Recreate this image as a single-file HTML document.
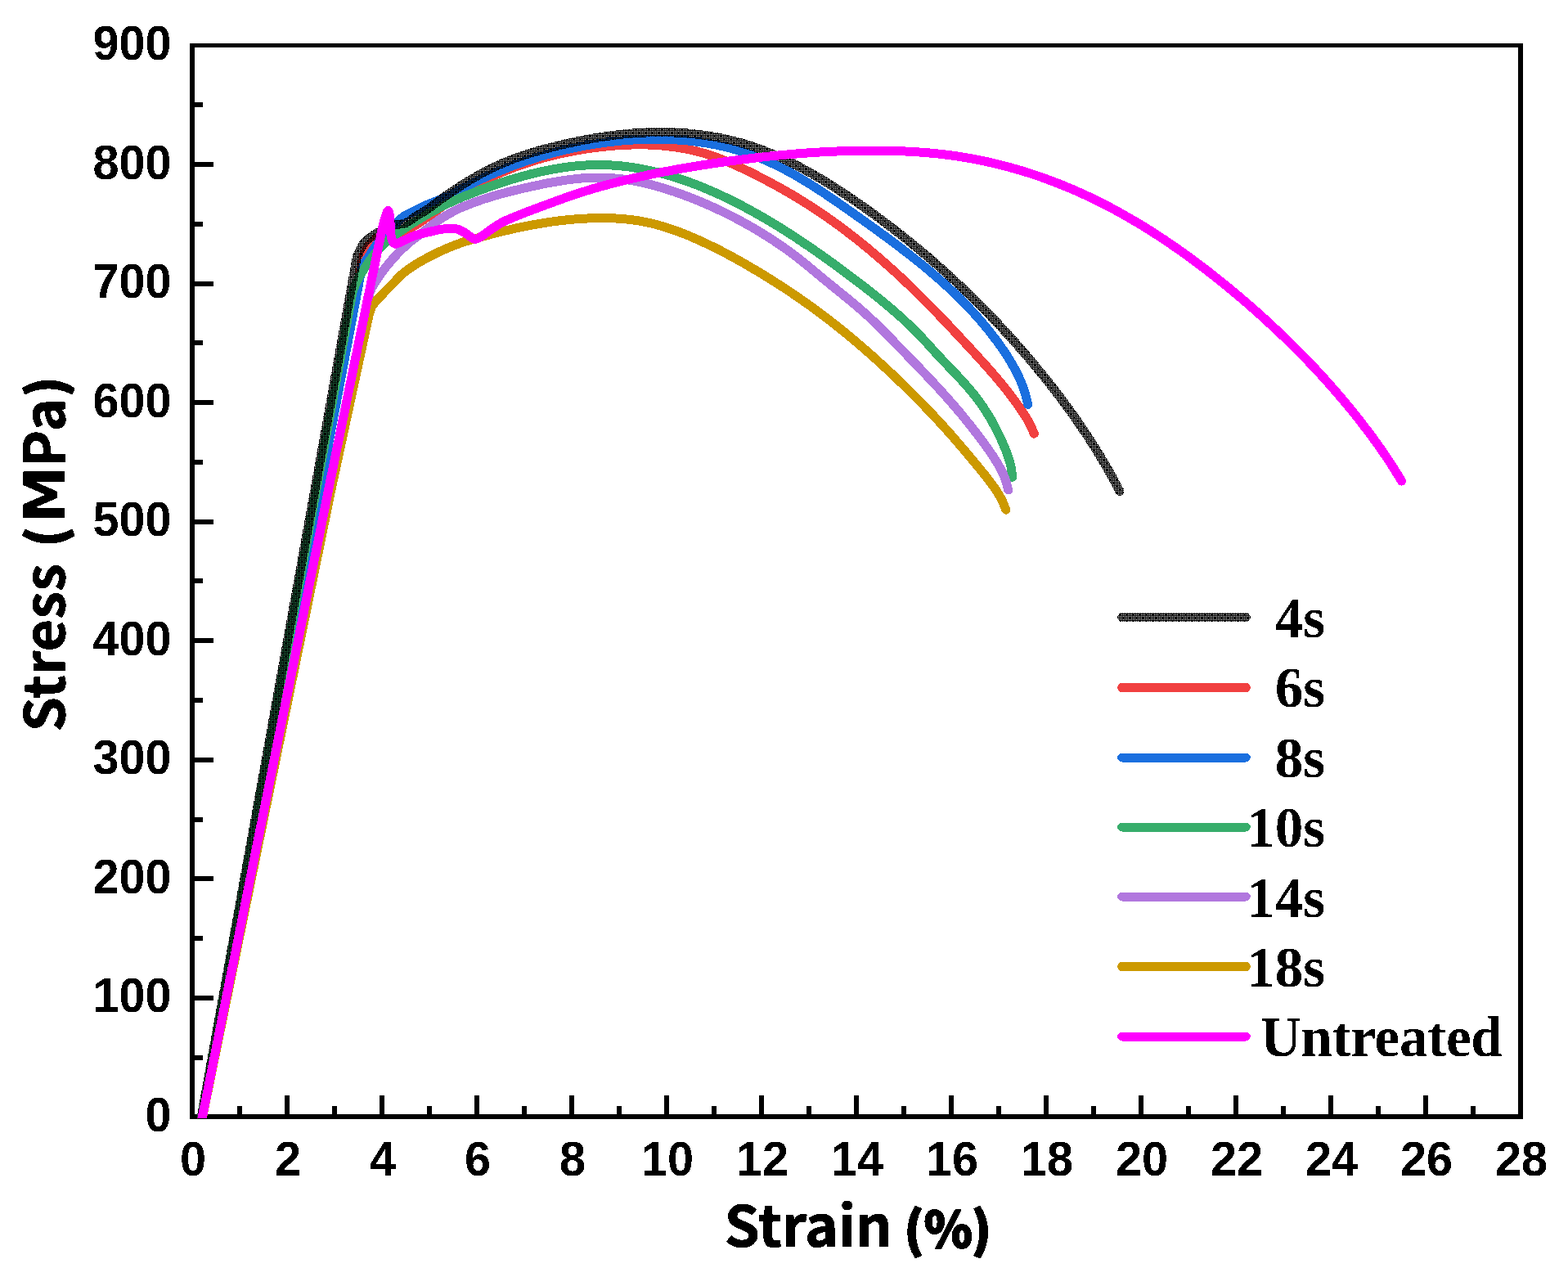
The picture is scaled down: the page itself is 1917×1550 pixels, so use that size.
<!DOCTYPE html>
<html lang="en"><head><meta charset="utf-8"><title>Stress-Strain curves</title>
<style>html,body{margin:0;padding:0;background:#fff}body{width:1917px;height:1550px;overflow:hidden}svg{display:block}.tk{font-family:"Liberation Sans",Arial,sans-serif;font-weight:bold;font-size:57.6px;fill:#000}.lg{font-family:"Liberation Serif","Times New Roman",serif;font-weight:bold;font-size:69px;fill:#000}.ax{font-family:"Noto Sans CJK SC","Liberation Sans",sans-serif;font-weight:bold;font-size:69.4px;fill:#000}.c{fill:none;stroke-width:11.0;stroke-linecap:round;stroke-linejoin:round}</style></head><body>
<svg width="1917" height="1550" viewBox="0 0 1917 1550" shape-rendering="crispEdges">
<defs>
<pattern id="dith" patternUnits="userSpaceOnUse" x="1" y="2" width="8" height="8">
<path id="dp" d="M0 0H8V8H0ZM0 0h1v1h-1ZM2 0h1v1h-1ZM6 0h1v1h-1ZM0 2h1v1h-1ZM2 2h1v1h-1ZM4 2h1v1h-1ZM6 2h1v1h-1ZM2 4h1v1h-1ZM4 4h1v1h-1ZM6 4h1v1h-1ZM0 6h1v1h-1ZM2 6h1v1h-1ZM4 6h1v1h-1ZM6 6h1v1h-1Z" fill="#000" fill-rule="evenodd"/>
</pattern>
<pattern id="dithL" patternUnits="userSpaceOnUse" x="1" y="3" width="8" height="8">
<path d="M0 0H8V8H0ZM0 0h1v1h-1ZM2 0h1v1h-1ZM6 0h1v1h-1ZM0 2h1v1h-1ZM2 2h1v1h-1ZM4 2h1v1h-1ZM6 2h1v1h-1ZM2 4h1v1h-1ZM4 4h1v1h-1ZM6 4h1v1h-1ZM0 6h1v1h-1ZM2 6h1v1h-1ZM4 6h1v1h-1ZM6 6h1v1h-1Z" fill="#000" fill-rule="evenodd"/>
</pattern>
<clipPath id="clip"><rect x="232" y="53" width="1630" height="1314"/></clipPath>
<filter id="bw" x="-5%" y="-5%" width="110%" height="110%" color-interpolation-filters="sRGB"><feComponentTransfer><feFuncA type="discrete" tableValues="0 1"/></feComponentTransfer></filter>
</defs>
<rect width="1917" height="1550" fill="#fff"/>
<g fill="#000"><rect x="232" y="53" width="1630" height="5"/><rect x="232" y="1362" width="1630" height="6"/><rect x="232" y="53" width="6" height="1315"/><rect x="1856" y="53" width="6" height="1315"/><rect x="290" y="1352" width="6" height="10"/><rect x="348" y="1339" width="6" height="23"/><rect x="406" y="1352" width="6" height="10"/><rect x="464" y="1339" width="6" height="23"/><rect x="522" y="1352" width="6" height="10"/><rect x="580" y="1339" width="6" height="23"/><rect x="638" y="1352" width="6" height="10"/><rect x="696" y="1339" width="6" height="23"/><rect x="754" y="1352" width="6" height="10"/><rect x="812" y="1339" width="6" height="23"/><rect x="870" y="1352" width="6" height="10"/><rect x="928" y="1339" width="6" height="23"/><rect x="986" y="1352" width="6" height="10"/><rect x="1044" y="1339" width="6" height="23"/><rect x="1102" y="1352" width="6" height="10"/><rect x="1160" y="1339" width="6" height="23"/><rect x="1218" y="1352" width="6" height="10"/><rect x="1276" y="1339" width="6" height="23"/><rect x="1334" y="1352" width="6" height="10"/><rect x="1392" y="1339" width="6" height="23"/><rect x="1450" y="1352" width="6" height="10"/><rect x="1508" y="1339" width="6" height="23"/><rect x="1566" y="1352" width="6" height="10"/><rect x="1624" y="1339" width="6" height="23"/><rect x="1682" y="1352" width="6" height="10"/><rect x="1740" y="1339" width="6" height="23"/><rect x="1798" y="1352" width="6" height="10"/><rect x="238" y="1290" width="10" height="6"/><rect x="238" y="1217" width="23" height="6"/><rect x="238" y="1144" width="10" height="6"/><rect x="238" y="1071" width="23" height="6"/><rect x="238" y="999" width="10" height="6"/><rect x="238" y="926" width="23" height="6"/><rect x="238" y="853" width="10" height="6"/><rect x="238" y="780" width="23" height="6"/><rect x="238" y="707" width="10" height="6"/><rect x="238" y="635" width="23" height="6"/><rect x="238" y="562" width="10" height="6"/><rect x="238" y="489" width="23" height="6"/><rect x="238" y="416" width="10" height="6"/><rect x="238" y="344" width="23" height="6"/><rect x="238" y="271" width="10" height="6"/><rect x="238" y="198" width="23" height="6"/><rect x="238" y="125" width="10" height="6"/></g>
<g clip-path="url(#clip)">
<path class="c" stroke="#F14040" d="M245.0 1373.0 L441.3 326.0C443.5 314.8 443.5 315.2 445.0 311.0C446.5 306.8 448.3 303.6 450.5 300.5C452.7 297.4 454.8 294.5 458.0 292.5C461.2 290.5 466.3 289.4 470.0 288.3C473.7 287.2 476.7 286.8 480.0 286.0C483.3 285.2 485.4 285.3 490.0 283.6C494.6 281.9 502.3 278.6 507.7 275.6C513.1 272.6 517.4 269.0 522.3 265.6C527.2 262.2 532.6 258.4 536.9 255.3C541.2 252.2 544.4 249.5 548.3 246.8C552.2 244.0 556.2 241.3 560.2 238.7C564.2 236.1 568.3 233.6 572.4 231.2C576.5 228.8 580.7 226.5 585.0 224.2C589.2 222.0 593.5 219.8 597.9 217.7C602.2 215.6 606.7 213.6 611.1 211.7C615.5 209.8 620.0 208.0 624.6 206.2C629.1 204.5 633.6 202.8 638.2 201.2C642.8 199.6 647.5 198.1 652.1 196.7C656.8 195.2 661.5 193.9 666.2 192.6C670.9 191.3 675.6 190.1 680.3 189.0C685.1 187.9 689.8 186.9 694.6 185.9C699.4 184.9 704.2 184.0 709.0 183.2C713.7 182.4 718.5 181.7 723.3 181.0C728.1 180.4 732.9 179.8 737.7 179.3C742.5 178.8 747.3 178.4 752.1 178.0C756.8 177.6 761.6 177.4 766.4 177.2C771.1 177.0 775.9 176.9 780.6 176.9C785.4 176.8 790.1 176.9 794.8 177.1C799.5 177.3 804.2 177.6 808.9 178.0C813.6 178.4 818.3 178.9 822.9 179.5C827.6 180.1 832.2 180.9 836.9 181.7C841.5 182.6 846.1 183.6 850.7 184.7C855.3 185.9 859.9 187.1 864.4 188.5C869.0 189.9 873.5 191.5 878.1 193.2C882.6 194.8 887.1 196.7 891.6 198.6C896.0 200.5 900.5 202.5 904.9 204.6C909.3 206.6 913.8 208.8 918.1 210.9C922.5 213.1 926.9 215.3 931.2 217.6C935.6 219.8 939.9 222.1 944.1 224.4C948.4 226.7 952.7 229.0 956.9 231.4C961.1 233.8 965.3 236.2 969.5 238.7C973.7 241.2 977.8 243.7 981.9 246.3C986.0 248.8 990.1 251.4 994.1 254.1C998.2 256.7 1002.2 259.4 1006.2 262.1C1010.2 264.8 1014.1 267.6 1018.0 270.4C1022.0 273.2 1025.8 276.1 1029.7 279.0C1033.6 281.8 1037.4 284.8 1041.2 287.7C1045.0 290.7 1048.8 293.6 1052.6 296.7C1056.3 299.7 1060.0 302.7 1063.7 305.8C1067.4 308.9 1071.1 312.0 1074.7 315.2C1078.4 318.3 1082.0 321.5 1085.6 324.7C1089.2 327.9 1092.7 331.1 1096.3 334.3C1099.8 337.6 1103.3 340.9 1106.8 344.2C1110.3 347.5 1113.8 350.8 1117.2 354.1C1120.6 357.5 1124.0 360.8 1127.4 364.2C1130.8 367.6 1134.2 371.0 1137.5 374.4C1140.9 377.8 1144.2 381.2 1147.5 384.7C1150.8 388.1 1154.1 391.6 1157.4 395.0C1160.7 398.5 1163.9 402.0 1167.2 405.5C1170.5 409.0 1173.7 412.5 1177.0 416.0C1180.2 419.5 1183.5 423.0 1186.8 426.5C1190.0 430.1 1193.3 433.6 1196.5 437.2C1199.8 440.7 1203.0 444.3 1206.2 447.9C1209.4 451.5 1212.6 455.1 1215.8 458.8C1218.9 462.5 1222.0 466.2 1225.1 469.9C1228.1 473.6 1231.1 477.4 1234.1 481.2C1237.0 485.1 1239.9 488.9 1242.7 492.9C1245.5 496.8 1248.3 500.8 1250.9 504.8C1253.5 508.9 1256.3 513.0 1258.5 517.2C1260.7 521.4 1263.3 527.9 1264.3 530.1"/>
<path class="c" stroke="#1A6FDF" d="M245.0 1373.0 L441.8 330.0C444.9 318.7 448.2 318.5 450.8 314.0C453.4 309.5 455.0 306.7 457.5 303.0C460.0 299.3 463.1 295.4 466.0 292.0C468.9 288.6 472.0 285.7 475.0 282.6C478.0 279.5 481.0 276.5 484.0 273.6C487.0 270.7 489.1 267.7 493.0 265.0C496.9 262.3 502.8 259.9 507.7 257.4C512.6 254.9 517.2 252.4 522.3 250.2C527.3 248.0 532.4 246.4 538.0 244.0C543.6 241.6 550.9 238.1 556.0 235.5C561.1 233.0 564.3 230.9 568.5 228.7C572.7 226.5 577.0 224.4 581.2 222.3C585.5 220.2 589.8 218.2 594.1 216.2C598.4 214.2 602.8 212.3 607.2 210.5C611.5 208.6 615.9 206.8 620.3 205.1C624.8 203.4 629.2 201.7 633.7 200.1C638.2 198.5 642.7 196.9 647.2 195.5C651.7 194.0 656.2 192.6 660.8 191.2C665.4 189.8 669.9 188.5 674.5 187.3C679.1 186.1 683.8 184.9 688.4 183.8C693.0 182.7 697.7 181.6 702.4 180.7C707.1 179.7 711.7 178.8 716.5 177.9C721.2 177.1 725.9 176.3 730.6 175.6C735.4 174.9 740.1 174.2 744.9 173.6C749.7 173.1 754.5 172.5 759.2 172.1C764.0 171.6 768.8 171.3 773.6 171.0C778.4 170.7 783.3 170.4 788.1 170.3C792.9 170.2 797.7 170.1 802.5 170.1C807.3 170.1 812.1 170.2 816.9 170.4C821.7 170.5 826.5 170.8 831.2 171.2C836.0 171.5 840.8 171.9 845.5 172.5C850.2 173.0 855.0 173.6 859.7 174.3C864.3 175.0 869.0 175.8 873.7 176.7C878.3 177.7 882.9 178.7 887.5 179.8C892.1 180.9 896.6 182.1 901.2 183.4C905.7 184.7 910.1 186.1 914.6 187.6C919.0 189.2 923.4 190.8 927.8 192.6C932.1 194.3 936.4 196.1 940.7 198.1C945.0 200.0 949.2 202.1 953.4 204.2C957.6 206.3 961.8 208.5 965.9 210.8C970.1 213.0 974.2 215.4 978.3 217.8C982.3 220.2 986.4 222.7 990.4 225.2C994.5 227.7 998.5 230.3 1002.5 232.9C1006.5 235.5 1010.5 238.2 1014.4 240.9C1018.4 243.6 1022.4 246.3 1026.3 249.0C1030.3 251.8 1034.2 254.5 1038.1 257.3C1042.1 260.1 1046.0 262.8 1049.9 265.6C1053.9 268.4 1057.8 271.2 1061.7 274.0C1065.6 276.8 1069.5 279.6 1073.4 282.4C1077.3 285.3 1081.2 288.1 1085.0 291.0C1088.9 293.8 1092.8 296.7 1096.6 299.6C1100.4 302.5 1104.2 305.4 1108.0 308.3C1111.8 311.2 1115.6 314.2 1119.3 317.2C1123.0 320.1 1126.7 323.2 1130.4 326.2C1134.1 329.2 1137.7 332.3 1141.3 335.4C1145.0 338.5 1148.5 341.6 1152.1 344.8C1155.6 348.0 1159.1 351.2 1162.6 354.4C1166.0 357.7 1169.4 361.0 1172.8 364.3C1176.2 367.6 1179.5 371.0 1182.8 374.4C1186.1 377.8 1189.3 381.3 1192.4 384.8C1195.6 388.3 1198.7 391.9 1201.8 395.5C1204.9 399.1 1207.9 402.8 1210.8 406.6C1213.7 410.3 1216.6 414.1 1219.5 417.9C1222.3 421.8 1225.0 425.7 1227.7 429.6C1230.4 433.6 1233.0 437.6 1235.4 441.8C1237.8 445.9 1240.2 450.0 1242.4 454.3C1244.5 458.5 1246.6 462.8 1248.4 467.2C1250.2 471.6 1251.8 476.0 1253.2 480.6C1254.6 485.1 1256.1 492.1 1256.7 494.4"/>
<path class="c" stroke="#37AD6B" d="M245.0 1373.0 L430.5 360.0C432.5 350.1 432.1 353.9 433.2 351.0C434.3 348.1 435.4 345.7 437.0 342.5C438.6 339.3 440.9 335.4 443.0 332.0C445.1 328.6 446.7 326.0 449.5 322.0C452.3 318.0 456.4 312.2 460.0 308.0C463.6 303.8 467.4 300.3 471.1 297.0C474.8 293.7 478.4 290.8 482.0 288.0C485.6 285.2 487.5 283.9 493.0 280.3C498.5 276.7 507.5 270.9 515.0 266.4C522.5 261.9 530.5 257.4 538.0 253.5C545.5 249.6 554.2 245.7 560.0 243.1C565.8 240.5 568.5 239.6 572.9 237.9C577.2 236.2 581.6 234.5 586.0 232.8C590.5 231.2 594.9 229.5 599.4 227.9C603.9 226.3 608.5 224.8 613.0 223.3C617.6 221.8 622.2 220.3 626.8 218.9C631.4 217.6 636.1 216.2 640.8 214.9C645.4 213.7 650.1 212.5 654.8 211.4C659.5 210.2 664.2 209.2 669.0 208.3C673.7 207.3 678.4 206.4 683.2 205.7C687.9 204.9 692.7 204.2 697.4 203.6C702.2 203.1 706.9 202.6 711.7 202.3C716.4 201.9 721.2 201.7 725.9 201.6C730.6 201.5 735.4 201.5 740.1 201.6C744.8 201.8 749.5 202.1 754.2 202.4C758.9 202.8 763.6 203.3 768.2 203.9C772.9 204.5 777.5 205.3 782.2 206.1C786.8 206.9 791.4 207.9 796.0 208.9C800.6 209.9 805.2 211.0 809.8 212.3C814.4 213.5 818.9 214.8 823.4 216.2C828.0 217.6 832.5 219.1 837.0 220.6C841.5 222.2 846.0 223.8 850.4 225.5C854.9 227.3 859.3 229.0 863.7 230.9C868.1 232.8 872.5 234.7 876.9 236.7C881.3 238.6 885.6 240.7 889.9 242.8C894.2 244.9 898.5 247.0 902.8 249.2C907.1 251.4 911.3 253.7 915.5 256.0C919.7 258.3 923.9 260.6 928.1 263.0C932.2 265.3 936.4 267.7 940.5 270.2C944.6 272.6 948.7 275.1 952.7 277.6C956.8 280.1 960.8 282.7 964.8 285.3C968.9 287.8 972.9 290.4 976.8 293.1C980.8 295.7 984.7 298.4 988.7 301.0C992.6 303.7 996.5 306.4 1000.4 309.2C1004.3 311.9 1008.2 314.7 1012.0 317.4C1015.9 320.2 1019.7 323.0 1023.6 325.8C1027.4 328.6 1031.2 331.4 1035.0 334.3C1038.8 337.1 1042.6 340.0 1046.4 342.8C1050.2 345.7 1053.9 348.6 1057.7 351.5C1061.4 354.4 1065.1 357.3 1068.8 360.2C1072.5 363.2 1076.2 366.2 1079.9 369.2C1083.5 372.2 1087.1 375.2 1090.7 378.3C1094.3 381.4 1097.9 384.5 1101.4 387.7C1104.9 390.9 1108.4 394.1 1111.8 397.4C1115.2 400.7 1118.6 404.0 1121.9 407.4C1125.3 410.8 1128.5 414.3 1131.8 417.8C1135.0 421.3 1138.2 424.9 1141.4 428.4C1144.6 432.0 1147.9 435.5 1151.2 439.0C1154.5 442.5 1157.8 445.9 1161.1 449.4C1164.4 452.8 1167.7 456.3 1171.0 459.8C1174.2 463.2 1177.5 466.7 1180.6 470.3C1183.8 473.9 1186.9 477.4 1189.8 481.1C1192.8 484.8 1195.7 488.6 1198.4 492.4C1201.2 496.3 1203.8 500.2 1206.3 504.2C1208.9 508.2 1211.3 512.3 1213.6 516.5C1215.9 520.6 1218.1 524.9 1220.2 529.2C1222.3 533.5 1224.3 537.8 1226.2 542.2C1228.1 546.6 1230.0 551.1 1231.6 555.6C1233.1 560.1 1234.7 564.7 1235.7 569.3C1236.7 573.9 1237.4 581.0 1237.7 583.3"/>
<path class="c" stroke="#B177DE" d="M245.9 1373.0 L402.0 600.0 L452.0 358.0C453.4 354.0 454.8 351.1 458.0 346.0C461.2 340.9 466.5 333.2 471.1 327.3C475.7 321.4 480.8 315.6 485.7 310.5C490.6 305.4 495.4 300.8 500.3 296.6C505.2 292.4 508.7 290.1 515.0 285.3C521.3 280.5 530.5 273.0 538.0 268.0C545.5 263.0 554.1 258.5 560.0 255.5C565.9 252.5 568.8 251.7 573.2 250.0C577.6 248.2 582.1 246.6 586.6 245.0C591.1 243.5 595.6 242.0 600.1 240.6C604.7 239.2 609.3 237.9 613.9 236.7C618.5 235.4 623.1 234.2 627.8 233.1C632.4 231.9 637.1 230.9 641.8 229.8C646.4 228.7 651.2 227.7 655.9 226.7C660.6 225.7 665.3 224.7 670.0 223.8C674.8 222.9 679.5 222.1 684.3 221.3C689.0 220.6 693.8 219.8 698.5 219.3C703.3 218.7 708.0 218.2 712.8 217.8C717.5 217.5 722.3 217.2 727.0 217.1C731.8 217.0 736.5 217.0 741.2 217.2C746.0 217.4 750.7 217.8 755.4 218.3C760.1 218.8 764.8 219.4 769.5 220.2C774.2 220.9 778.9 221.8 783.5 222.8C788.2 223.8 792.8 224.9 797.4 226.1C802.0 227.4 806.6 228.7 811.2 230.1C815.8 231.5 820.4 233.0 824.9 234.5C829.5 236.1 834.0 237.8 838.5 239.4C843.0 241.1 847.5 242.9 851.9 244.7C856.4 246.5 860.8 248.4 865.2 250.3C869.6 252.3 873.9 254.2 878.3 256.3C882.6 258.3 886.9 260.4 891.2 262.6C895.5 264.7 899.7 266.9 903.9 269.2C908.1 271.4 912.3 273.7 916.4 276.1C920.6 278.4 924.7 280.8 928.7 283.3C932.8 285.8 936.8 288.3 940.8 290.8C944.8 293.4 948.7 296.0 952.7 298.7C956.6 301.4 960.5 304.1 964.3 306.9C968.1 309.7 971.9 312.6 975.7 315.5C979.5 318.4 983.2 321.4 986.9 324.4C990.6 327.5 994.3 330.6 998.0 333.6C1001.6 336.7 1005.3 339.8 1009.0 342.8C1012.7 345.8 1016.4 348.8 1020.1 351.8C1023.8 354.8 1027.5 357.8 1031.2 360.8C1034.9 363.8 1038.5 366.8 1042.2 369.8C1045.8 372.9 1049.4 375.9 1053.0 379.0C1056.6 382.2 1060.1 385.3 1063.6 388.6C1067.1 391.8 1070.5 395.1 1073.9 398.5C1077.4 401.8 1080.7 405.2 1084.1 408.6C1087.5 412.0 1090.8 415.4 1094.1 418.9C1097.5 422.3 1100.8 425.8 1104.1 429.2C1107.5 432.6 1110.8 436.1 1114.1 439.5C1117.4 442.9 1120.8 446.4 1124.1 449.8C1127.4 453.3 1130.7 456.7 1133.9 460.2C1137.2 463.6 1140.5 467.1 1143.7 470.6C1147.0 474.1 1150.2 477.6 1153.4 481.2C1156.6 484.7 1159.7 488.3 1162.9 491.9C1166.0 495.5 1169.1 499.1 1172.2 502.7C1175.3 506.4 1178.3 510.1 1181.3 513.8C1184.3 517.5 1187.3 521.2 1190.2 525.0C1193.2 528.8 1196.1 532.6 1198.9 536.4C1201.8 540.2 1204.6 544.1 1207.4 548.0C1210.1 551.9 1212.9 555.9 1215.5 559.9C1218.0 563.9 1220.6 568.0 1222.8 572.2C1225.0 576.4 1227.1 580.6 1228.7 585.1C1230.4 589.6 1232.0 596.6 1232.7 598.9"/>
<path class="c" stroke="#CC9900" d="M246.0 1373.0 L404.6 600.0 L451.3 384.0C452.2 380.7 453.1 377.8 454.6 375.0C456.1 372.2 458.2 369.9 460.4 367.3C462.6 364.7 464.0 363.4 467.7 359.6C471.4 355.8 478.1 348.9 482.3 344.6C486.5 340.3 488.8 337.4 493.0 333.9C497.2 330.4 502.8 326.7 507.7 323.6C512.6 320.5 517.2 317.9 522.3 315.2C527.3 312.5 531.4 310.2 538.0 307.3C544.6 304.4 555.7 299.8 561.9 297.5C568.1 295.2 570.8 294.7 575.3 293.4C579.9 292.1 584.4 290.7 589.0 289.5C593.6 288.2 598.3 286.9 602.9 285.7C607.6 284.5 612.3 283.3 617.0 282.2C621.7 281.1 626.5 280.0 631.2 278.9C636.0 277.9 640.8 276.9 645.6 276.0C650.4 275.1 655.2 274.2 660.0 273.4C664.8 272.6 669.6 271.8 674.5 271.1C679.3 270.4 684.1 269.8 689.0 269.3C693.8 268.7 698.6 268.3 703.4 267.9C708.3 267.5 713.1 267.2 717.9 267.0C722.7 266.8 727.5 266.6 732.2 266.6C737.0 266.5 741.7 266.6 746.5 266.7C751.2 266.9 755.9 267.1 760.6 267.5C765.3 267.9 769.9 268.4 774.6 269.0C779.2 269.7 783.9 270.4 788.5 271.3C793.1 272.2 797.7 273.3 802.2 274.5C806.8 275.7 811.4 277.1 815.9 278.5C820.4 280.0 824.9 281.6 829.4 283.2C833.9 284.9 838.3 286.7 842.8 288.5C847.2 290.4 851.6 292.3 856.0 294.3C860.4 296.3 864.8 298.4 869.2 300.5C873.5 302.6 877.9 304.8 882.2 307.0C886.5 309.2 890.8 311.5 895.0 313.8C899.3 316.2 903.5 318.5 907.8 320.9C912.0 323.3 916.2 325.7 920.3 328.2C924.5 330.6 928.7 333.1 932.8 335.6C936.9 338.2 941.0 340.7 945.1 343.3C949.2 345.9 953.2 348.5 957.3 351.1C961.3 353.7 965.3 356.4 969.3 359.1C973.3 361.8 977.2 364.5 981.1 367.3C985.1 370.0 989.0 372.8 992.9 375.6C996.8 378.4 1000.6 381.3 1004.4 384.2C1008.3 387.0 1012.1 390.0 1015.9 392.9C1019.7 395.8 1023.4 398.8 1027.2 401.8C1030.9 404.8 1034.6 407.8 1038.3 410.9C1042.0 414.0 1045.7 417.1 1049.3 420.2C1052.9 423.3 1056.6 426.4 1060.2 429.6C1063.8 432.7 1067.4 435.9 1070.9 439.1C1074.5 442.4 1078.0 445.6 1081.6 448.9C1085.1 452.1 1088.6 455.4 1092.1 458.7C1095.6 462.0 1099.0 465.4 1102.5 468.7C1105.9 472.1 1109.4 475.4 1112.8 478.8C1116.2 482.2 1119.6 485.6 1123.0 489.0C1126.4 492.5 1129.8 495.9 1133.1 499.4C1136.4 502.9 1139.7 506.3 1143.0 509.8C1146.3 513.3 1149.6 516.9 1152.8 520.4C1156.0 523.9 1159.2 527.5 1162.3 531.0C1165.5 534.6 1168.6 538.2 1171.6 541.8C1174.7 545.4 1177.8 549.0 1180.8 552.6C1183.9 556.3 1187.0 559.9 1190.0 563.6C1193.1 567.3 1196.3 571.0 1199.3 574.8C1202.4 578.6 1205.5 582.4 1208.4 586.2C1211.3 590.0 1214.2 593.9 1216.9 597.9C1219.5 601.8 1222.0 605.8 1224.2 610.0C1226.4 614.2 1228.9 621.0 1229.9 623.2"/>
<path class="c" stroke="url(#dith)" stroke-width="10.6" d="M244.8 1373.0 L435.6 318.5C437.5 308.5 436.9 313.5 437.8 311.0C438.7 308.5 439.8 306.2 441.2 303.6C442.6 301.0 444.2 297.8 446.3 295.5C448.4 293.2 451.3 291.4 453.6 289.7C455.9 288.0 457.1 287.2 460.2 285.3C463.3 283.4 468.2 280.3 472.0 278.5C475.8 276.7 479.3 275.3 482.8 274.5C486.3 273.7 490.1 274.4 493.0 273.7C495.9 273.0 497.9 271.8 500.3 270.3C502.8 268.8 504.0 267.2 507.7 264.8C511.4 262.4 517.2 259.5 522.3 256.1C527.3 252.7 533.5 247.8 538.0 244.5C542.5 241.2 545.6 239.0 549.6 236.3C553.5 233.6 557.4 231.0 561.4 228.4C565.4 225.8 569.5 223.3 573.6 220.8C577.7 218.4 581.8 216.0 586.0 213.6C590.2 211.3 594.5 209.1 598.7 207.0C603.0 204.8 607.3 202.8 611.7 200.8C616.0 198.9 620.4 197.1 624.9 195.3C629.3 193.6 633.7 192.0 638.2 190.5C642.7 188.9 647.2 187.5 651.8 186.2C656.3 184.8 660.9 183.5 665.5 182.3C670.0 181.1 674.7 179.9 679.3 178.8C683.9 177.7 688.6 176.6 693.2 175.5C697.9 174.5 702.6 173.5 707.3 172.5C712.0 171.5 716.7 170.6 721.4 169.8C726.1 168.9 730.9 168.1 735.6 167.4C740.4 166.7 745.1 166.0 749.8 165.4C754.6 164.8 759.3 164.2 764.1 163.8C768.8 163.3 773.6 162.9 778.3 162.6C783.1 162.3 787.8 162.1 792.6 161.9C797.3 161.7 802.1 161.7 806.8 161.7C811.5 161.7 816.3 161.7 821.0 161.9C825.7 162.0 830.4 162.3 835.1 162.6C839.8 162.9 844.5 163.4 849.2 163.9C853.8 164.4 858.5 165.0 863.1 165.6C867.8 166.3 872.4 167.1 877.0 168.0C881.6 168.8 886.2 169.8 890.8 170.9C895.3 171.9 899.9 173.1 904.4 174.3C908.9 175.6 913.4 176.9 917.9 178.4C922.4 179.9 926.8 181.4 931.3 183.1C935.7 184.7 940.1 186.5 944.5 188.3C948.8 190.2 953.2 192.1 957.5 194.1C961.8 196.1 966.1 198.2 970.4 200.4C974.7 202.5 978.9 204.8 983.1 207.1C987.4 209.3 991.6 211.7 995.7 214.1C999.9 216.5 1004.1 219.0 1008.2 221.5C1012.3 224.0 1016.4 226.6 1020.5 229.2C1024.6 231.8 1028.6 234.5 1032.6 237.1C1036.7 239.8 1040.7 242.5 1044.7 245.3C1048.6 248.0 1052.6 250.7 1056.5 253.5C1060.5 256.3 1064.4 259.1 1068.3 261.9C1072.2 264.8 1076.0 267.6 1079.9 270.5C1083.7 273.3 1087.5 276.2 1091.3 279.2C1095.1 282.1 1098.9 285.0 1102.6 288.0C1106.4 290.9 1110.1 293.9 1113.8 296.9C1117.5 299.9 1121.2 303.0 1124.9 306.0C1128.5 309.1 1132.1 312.1 1135.8 315.2C1139.4 318.3 1143.0 321.4 1146.5 324.6C1150.1 327.7 1153.6 330.9 1157.2 334.1C1160.7 337.2 1164.2 340.4 1167.6 343.7C1171.1 346.9 1174.6 350.1 1178.0 353.4C1181.4 356.7 1184.8 360.0 1188.2 363.3C1191.6 366.6 1195.0 369.9 1198.3 373.3C1201.7 376.7 1205.0 380.0 1208.3 383.4C1211.6 386.8 1214.9 390.3 1218.1 393.7C1221.4 397.1 1224.6 400.6 1227.8 404.1C1231.0 407.6 1234.2 411.1 1237.4 414.6C1240.5 418.1 1243.7 421.7 1246.8 425.3C1249.9 428.8 1253.0 432.4 1256.1 436.0C1259.2 439.6 1262.2 443.3 1265.3 446.9C1268.3 450.6 1271.3 454.3 1274.3 457.9C1277.3 461.6 1280.3 465.4 1283.2 469.1C1286.2 472.8 1289.1 476.6 1292.0 480.4C1294.9 484.1 1297.7 487.9 1300.6 491.8C1303.4 495.6 1306.2 499.4 1309.0 503.3C1311.8 507.2 1314.5 511.0 1317.3 515.0C1320.0 518.9 1322.7 522.8 1325.3 526.8C1328.0 530.7 1330.6 534.7 1333.2 538.7C1335.7 542.7 1338.3 546.7 1340.8 550.8C1343.3 554.8 1345.8 558.9 1348.2 563.0C1350.6 567.1 1353.0 571.2 1355.4 575.3C1357.7 579.5 1360.0 583.7 1362.3 587.8C1364.5 592.0 1367.8 598.4 1368.9 600.5"/>
<path class="c" stroke="#FF00FF" d="M245.8 1373.0 L401.3 600.0 L467.1 280.0C468.1 275.7 468.8 273.0 469.6 270.0C470.5 267.0 471.4 264.1 472.2 262.0C473.0 259.9 473.7 257.5 474.4 257.5C475.1 257.5 475.8 259.6 476.2 262.0C476.6 264.4 476.8 268.2 477.0 272.0C477.2 275.8 477.2 281.3 477.6 285.0C478.0 288.7 478.6 291.8 479.6 294.0C480.6 296.2 481.3 298.1 483.5 298.2C485.7 298.3 489.0 296.1 493.0 294.4C497.0 292.7 501.6 289.8 507.7 287.8C513.8 285.8 524.2 283.7 529.6 282.4C535.0 281.1 535.8 280.7 540.0 280.2C544.2 279.7 551.0 279.2 554.6 279.4C558.2 279.5 559.5 280.2 561.9 281.1C564.3 282.1 566.8 283.6 569.2 285.1C571.6 286.7 574.5 289.2 576.5 290.4C578.5 291.6 579.4 292.4 581.0 292.4C582.6 292.4 584.3 291.5 586.0 290.6C587.7 289.8 589.0 288.8 591.1 287.3C593.2 285.8 594.8 284.3 598.4 281.8C602.0 279.3 608.1 275.0 613.0 272.3C617.9 269.6 621.6 268.2 627.7 265.7C633.8 263.1 640.9 260.3 649.6 257.0C658.3 253.7 672.7 248.5 680.0 245.8C687.3 243.1 688.9 242.5 693.3 241.0C697.8 239.4 702.2 237.9 706.7 236.5C711.2 235.0 715.7 233.6 720.2 232.2C724.8 230.8 729.3 229.5 733.9 228.2C738.4 226.9 743.0 225.7 747.5 224.5C752.1 223.3 756.7 222.1 761.3 221.0C765.9 219.8 770.6 218.7 775.2 217.7C779.8 216.6 784.5 215.6 789.1 214.6C793.8 213.6 798.4 212.6 803.1 211.7C807.8 210.7 812.5 209.8 817.2 209.0C821.9 208.1 826.6 207.2 831.3 206.4C836.0 205.6 840.8 204.8 845.5 204.0C850.2 203.2 855.0 202.4 859.7 201.7C864.5 201.0 869.2 200.2 874.0 199.5C878.8 198.8 883.5 198.1 888.3 197.5C893.1 196.8 897.9 196.2 902.6 195.6C907.4 194.9 912.2 194.3 917.0 193.8C921.8 193.2 926.6 192.6 931.4 192.1C936.2 191.5 941.0 191.0 945.8 190.5C950.6 190.1 955.4 189.6 960.3 189.2C965.1 188.7 969.9 188.3 974.7 187.9C979.5 187.5 984.3 187.2 989.1 186.8C994.0 186.5 998.8 186.2 1003.6 185.9C1008.4 185.7 1013.2 185.4 1018.0 185.2C1022.8 185.0 1027.6 184.8 1032.4 184.6C1037.3 184.5 1042.1 184.3 1046.9 184.3C1051.7 184.2 1056.5 184.1 1061.2 184.1C1066.0 184.0 1070.8 184.0 1075.6 184.1C1080.4 184.1 1085.2 184.2 1089.9 184.3C1094.7 184.5 1099.5 184.6 1104.2 184.9C1109.0 185.1 1113.7 185.3 1118.5 185.6C1123.2 185.9 1128.0 186.3 1132.7 186.7C1137.4 187.1 1142.2 187.5 1146.9 188.0C1151.6 188.6 1156.3 189.1 1161.0 189.7C1165.7 190.3 1170.3 191.0 1175.0 191.8C1179.7 192.5 1184.3 193.3 1189.0 194.1C1193.6 195.0 1198.3 195.9 1202.9 196.9C1207.5 197.9 1212.1 198.9 1216.7 200.0C1221.3 201.1 1225.9 202.3 1230.5 203.5C1235.0 204.7 1239.6 206.0 1244.1 207.3C1248.7 208.6 1253.2 210.0 1257.7 211.4C1262.2 212.9 1266.7 214.4 1271.2 215.9C1275.7 217.5 1280.1 219.1 1284.6 220.8C1289.0 222.4 1293.4 224.1 1297.8 225.9C1302.2 227.7 1306.6 229.5 1311.0 231.4C1315.4 233.3 1319.7 235.2 1324.1 237.2C1328.4 239.1 1332.7 241.2 1337.0 243.3C1341.3 245.3 1345.5 247.5 1349.8 249.6C1354.0 251.8 1358.3 254.0 1362.5 256.3C1366.7 258.6 1370.9 260.9 1375.0 263.3C1379.2 265.6 1383.4 268.0 1387.5 270.5C1391.6 272.9 1395.7 275.4 1399.8 277.9C1403.9 280.4 1408.0 283.0 1412.0 285.6C1416.0 288.2 1420.1 290.8 1424.1 293.5C1428.1 296.2 1432.1 298.9 1436.0 301.6C1440.0 304.4 1443.9 307.1 1447.8 309.9C1451.8 312.8 1455.7 315.6 1459.5 318.5C1463.4 321.3 1467.3 324.2 1471.1 327.1C1474.9 330.1 1478.7 333.0 1482.5 336.0C1486.3 339.0 1490.1 342.0 1493.8 345.0C1497.6 348.0 1501.3 351.1 1505.0 354.2C1508.7 357.2 1512.4 360.3 1516.1 363.4C1519.7 366.5 1523.4 369.7 1527.0 372.8C1530.6 376.0 1534.2 379.1 1537.8 382.3C1541.3 385.5 1544.9 388.7 1548.4 391.9C1551.9 395.2 1555.4 398.4 1558.9 401.7C1562.4 404.9 1565.9 408.2 1569.3 411.5C1572.7 414.8 1576.1 418.1 1579.5 421.5C1582.9 424.8 1586.3 428.2 1589.6 431.6C1592.9 435.0 1596.3 438.4 1599.6 441.8C1602.8 445.2 1606.1 448.7 1609.4 452.2C1612.6 455.6 1615.8 459.1 1619.0 462.7C1622.2 466.2 1625.4 469.7 1628.5 473.3C1631.6 476.9 1634.8 480.4 1637.8 484.1C1640.9 487.7 1644.0 491.3 1647.0 495.0C1650.1 498.6 1653.1 502.3 1656.1 506.1C1659.0 509.8 1662.0 513.5 1664.9 517.3C1667.8 521.1 1670.7 524.8 1673.6 528.7C1676.5 532.5 1679.3 536.3 1682.1 540.2C1684.9 544.1 1687.6 548.0 1690.3 551.9C1693.1 555.9 1695.7 559.8 1698.4 563.8C1701.0 567.8 1703.6 571.8 1706.1 575.9C1708.7 579.9 1712.4 586.1 1713.6 588.1"/>
</g>
<g class="tk" filter="url(#bw)"><text transform="translate(209.6,1382.7) scale(1,1.025)" text-anchor="end">0</text><text transform="translate(209.6,1237.2) scale(1,1.025)" text-anchor="end">100</text><text transform="translate(209.6,1091.7) scale(1,1.025)" text-anchor="end">200</text><text transform="translate(209.6,946.2) scale(1,1.025)" text-anchor="end">300</text><text transform="translate(209.6,800.7) scale(1,1.025)" text-anchor="end">400</text><text transform="translate(209.6,655.2) scale(1,1.025)" text-anchor="end">500</text><text transform="translate(209.6,509.7) scale(1,1.025)" text-anchor="end">600</text><text transform="translate(209.6,364.2) scale(1,1.025)" text-anchor="end">700</text><text transform="translate(209.6,218.7) scale(1,1.025)" text-anchor="end">800</text><text transform="translate(209.6,73.2) scale(1,1.025)" text-anchor="end">900</text><text transform="translate(236.0,1436.7) scale(1,1.025)" text-anchor="middle">0</text><text transform="translate(352.0,1436.7) scale(1,1.025)" text-anchor="middle">2</text><text transform="translate(468.0,1436.7) scale(1,1.025)" text-anchor="middle">4</text><text transform="translate(584.0,1436.7) scale(1,1.025)" text-anchor="middle">6</text><text transform="translate(700.0,1436.7) scale(1,1.025)" text-anchor="middle">8</text><text transform="translate(816.0,1436.7) scale(1,1.025)" text-anchor="middle">10</text><text transform="translate(932.0,1436.7) scale(1,1.025)" text-anchor="middle">12</text><text transform="translate(1048.0,1436.7) scale(1,1.025)" text-anchor="middle">14</text><text transform="translate(1164.0,1436.7) scale(1,1.025)" text-anchor="middle">16</text><text transform="translate(1280.0,1436.7) scale(1,1.025)" text-anchor="middle">18</text><text transform="translate(1396.0,1436.7) scale(1,1.025)" text-anchor="middle">20</text><text transform="translate(1512.0,1436.7) scale(1,1.025)" text-anchor="middle">22</text><text transform="translate(1628.0,1436.7) scale(1,1.025)" text-anchor="middle">24</text><text transform="translate(1744.0,1436.7) scale(1,1.025)" text-anchor="middle">26</text><text transform="translate(1860.0,1436.7) scale(1,1.025)" text-anchor="middle">28</text></g>
<g class="ax" filter="url(#bw)">
<text x="885.6" y="1524" stroke="#000" stroke-width="0.9" stroke-linejoin="round">Strain <tspan font-size="59.5" font-weight="900" stroke-width="2.2" dx="-1" dy="0.5">(</tspan><tspan font-size="60" font-weight="900" stroke-width="2.0" dx="0.5">%</tspan><tspan font-size="59.5" font-weight="900" stroke-width="2.2" dx="-1">)</tspan></text>
<text transform="translate(79.3,894.5) rotate(-90)" font-size="68.2" stroke="#000" stroke-width="0.9" stroke-linejoin="round">Stress <tspan font-size="59.5" font-weight="900" stroke-width="2.2" dx="5.5" dy="-1">(</tspan><tspan font-family="DejaVu Sans" font-size="70" stroke-width="0.3" dx="5" dy="1">M</tspan><tspan font-size="68.2" dx="-1.5">P</tspan><tspan font-size="68.2" dx="1.5">a</tspan><tspan font-size="59.5" font-weight="900" stroke-width="2.2" dx="2" dy="-1">)</tspan></text>
</g>
<g><line class="c" stroke-width="11" x1="1371.7" y1="754.5" x2="1523.3" y2="754.5" stroke="url(#dithL)"/><line class="c" stroke-width="11" x1="1371.7" y1="840.5" x2="1523.3" y2="840.5" stroke="#F14040"/><line class="c" stroke-width="10" x1="1371.7" y1="926.0" x2="1523.3" y2="926.0" stroke="#1A6FDF"/><line class="c" stroke-width="10" x1="1371.7" y1="1011.0" x2="1523.3" y2="1011.0" stroke="#37AD6B"/><line class="c" stroke-width="10" x1="1371.7" y1="1096.0" x2="1523.3" y2="1096.0" stroke="#B177DE"/><line class="c" stroke-width="11" x1="1371.7" y1="1181.5" x2="1523.3" y2="1181.5" stroke="#CC9900"/><line class="c" stroke-width="10" x1="1371.7" y1="1267.0" x2="1523.3" y2="1267.0" stroke="#FF00FF"/></g><g class="lg" filter="url(#bw)"><text x="1620" y="779.0" text-anchor="end">4s</text><text x="1620" y="864.4" text-anchor="end">6s</text><text x="1620" y="949.8" text-anchor="end">8s</text><text x="1620" y="1035.2" text-anchor="end">10s</text><text x="1620" y="1120.6" text-anchor="end">14s</text><text x="1620" y="1206.0" text-anchor="end">18s</text><text x="1541" y="1291.4" letter-spacing="-0.25">Untreated</text></g>
</svg></body></html>
